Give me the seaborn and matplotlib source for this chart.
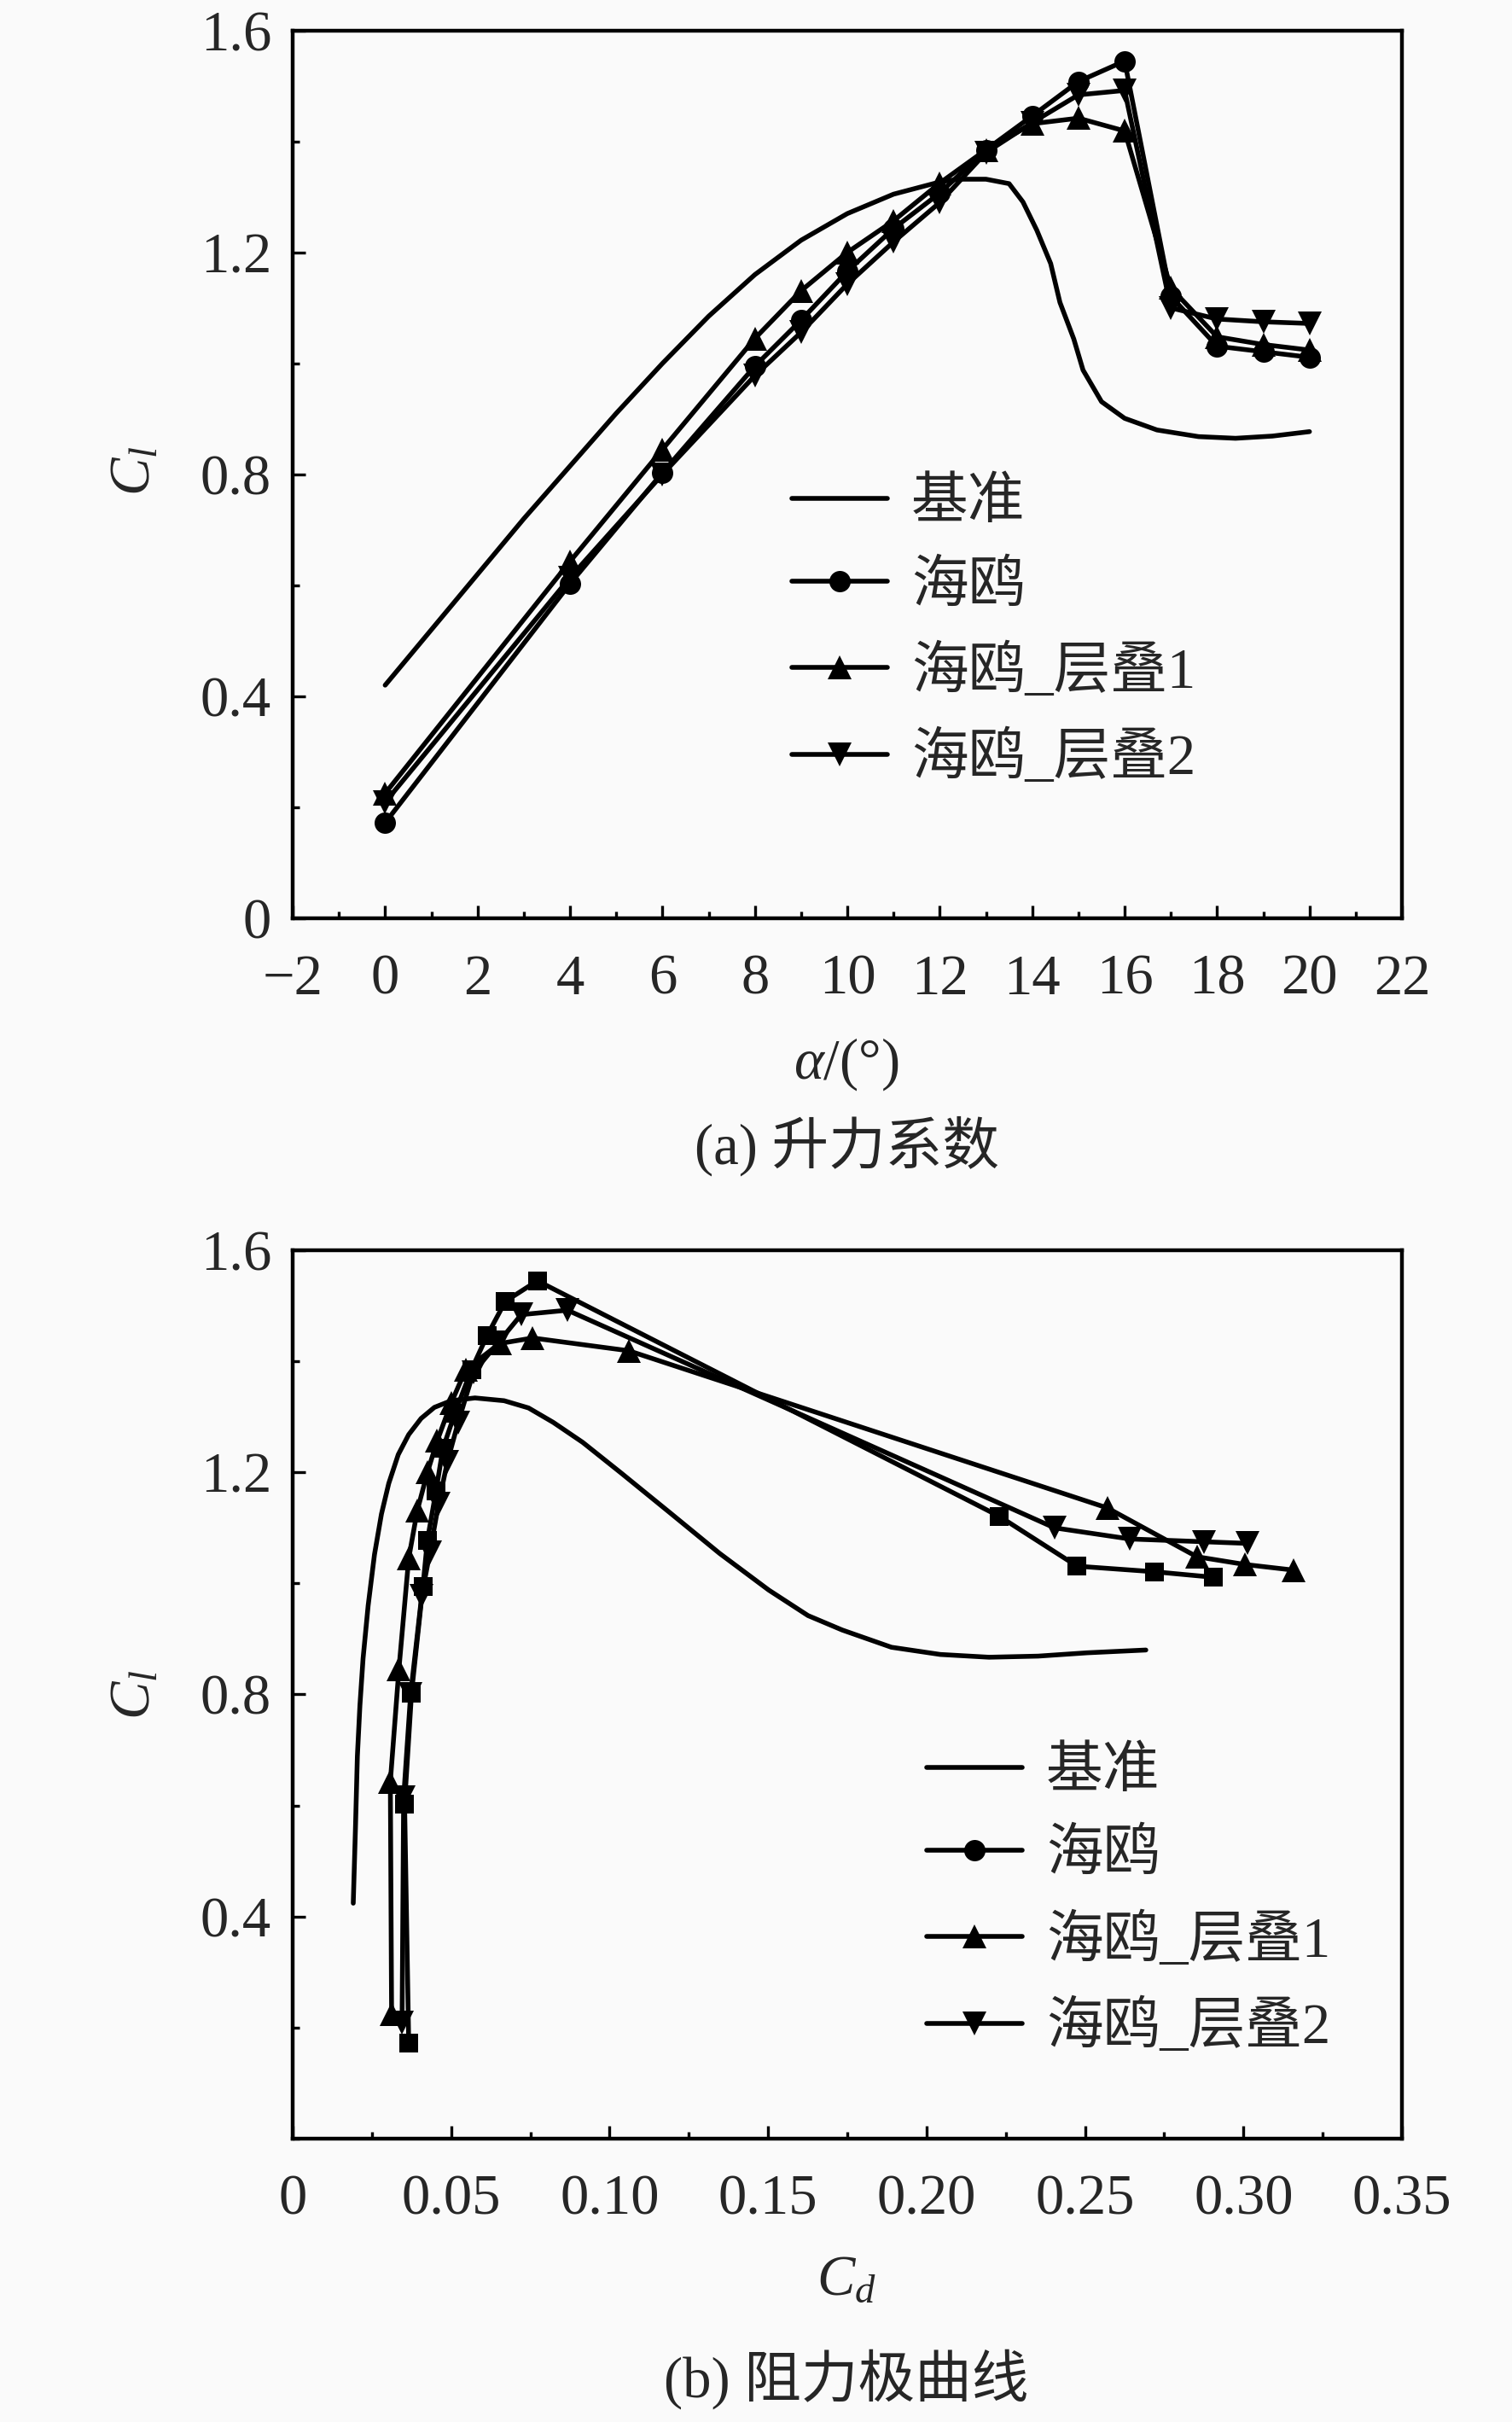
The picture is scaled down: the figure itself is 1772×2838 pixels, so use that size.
import pandas as pd
import seaborn as sns
import matplotlib.pyplot as plt
from matplotlib.lines import Line2D
from matplotlib.ticker import MultipleLocator, FuncFormatter

# ------------------------------------------------
# Data
# ------------------------------------------------
alpha = [0, 4, 6, 8, 9, 10, 11, 12, 13, 14, 15, 16, 17, 18, 19, 20]

cl_seagull = [0.172, 0.603, 0.803, 0.995, 1.078, 1.166, 1.243, 1.307, 1.385, 1.446, 1.508, 1.545, 1.121, 1.031, 1.021, 1.011]
cl_stack1 = [0.225, 0.643, 0.845, 1.045, 1.131, 1.200, 1.257, 1.325, 1.385, 1.432, 1.442, 1.419, 1.136, 1.048, 1.034, 1.024]
cl_stack2 = [0.209, 0.614, 0.800, 0.978, 1.056, 1.143, 1.219, 1.290, 1.380, 1.434, 1.484, 1.492, 1.100, 1.080, 1.075, 1.072]

cd_seagull = [0.0366, 0.0353, 0.0375, 0.0411, 0.0425, 0.0452, 0.0474, 0.0512, 0.0564, 0.0613, 0.0671, 0.0772, 0.2229, 0.2475, 0.2718, 0.2906]
cd_stack1 = [0.0312, 0.0308, 0.0335, 0.0366, 0.0393, 0.0425, 0.0456, 0.0500, 0.0546, 0.0653, 0.0757, 0.1060, 0.2570, 0.2853, 0.3005, 0.3157]
cd_stack2 = [0.0345, 0.0350, 0.0372, 0.0407, 0.0433, 0.0460, 0.0488, 0.0522, 0.0570, 0.0649, 0.0721, 0.0867, 0.2404, 0.2641, 0.2875, 0.3014]

alpha_base = [0, 1, 2, 3, 4, 5, 6, 7, 8, 9, 10, 11, 12, 12.4, 13, 13.5, 13.8, 14.1, 14.4,
              14.6, 14.9, 15.1, 15.5, 16, 16.7, 17.6, 18.4, 19.2, 20]
cl_base_a = [0.42, 0.52, 0.62, 0.72, 0.815, 0.91, 1.0, 1.085, 1.16, 1.222, 1.27, 1.305, 1.327, 1.332,
             1.332, 1.324, 1.291, 1.240, 1.180, 1.110, 1.044, 0.988, 0.931, 0.901, 0.880, 0.868,
             0.865, 0.869, 0.877]

cd_base = [0.0191, 0.0198, 0.0204, 0.0212, 0.0222, 0.0238, 0.0258, 0.0280, 0.0303, 0.0333, 0.0366,
           0.0405, 0.0447, 0.0500, 0.0575, 0.0667, 0.0744, 0.0822, 0.0915, 0.1038, 0.1193, 0.1347,
           0.1502, 0.1626, 0.1734, 0.1889, 0.2043, 0.2197, 0.2352, 0.2507, 0.2692]
cl_base_d = [0.424, 0.56, 0.689, 0.78, 0.865, 0.96, 1.052, 1.125, 1.180, 1.232, 1.268, 1.297, 1.317,
             1.329, 1.334, 1.329, 1.316, 1.290, 1.254, 1.198, 1.126, 1.054, 0.988, 0.942, 0.916,
             0.885, 0.872, 0.867, 0.869, 0.875, 0.880]

labels = ["基准", "海鸥", "海鸥_层叠1", "海鸥_层叠2"]

# ------------------------------------------------
# Style
# ------------------------------------------------
sns.set_theme(style="ticks")
plt.rcParams['font.family'] = ['Liberation Serif', 'Noto Sans CJK SC', 'DejaVu Sans']
plt.rcParams['mathtext.fontset'] = 'custom'
plt.rcParams['mathtext.rm'] = 'Liberation Serif'
plt.rcParams['mathtext.it'] = 'Liberation Serif:italic'
plt.rcParams['axes.unicode_minus'] = True

FS = 24
LW = 2.0
BG = '#fafafa'
line_kw = dict(color='black', linewidth=LW, sort=False, estimator=None, legend=False)
mk = {'o': 9, 's': 8, '^': 10, 'v': 10}

fig = plt.figure(figsize=(8.86, 14.19), dpi=200, facecolor=BG)
ax1 = fig.add_axes([0.1936, 0.6209, 0.7336, 0.3665])
ax2 = fig.add_axes([0.1936, 0.1170, 0.7336, 0.3668])


def style_axes(ax):
    ax.set_facecolor(BG)
    for s in ax.spines.values():
        s.set_linewidth(1.6)
        s.set_color('black')
        s.set_visible(True)
    ax.tick_params(which='both', direction='in', top=False, right=False,
                   labelsize=FS, color='black', width=1.2)
    ax.tick_params(which='major', length=5.5)
    ax.tick_params(which='minor', length=3)
    ax.tick_params(axis='x', which='both', pad=15)
    ax.tick_params(axis='y', which='both', pad=9)
    ax.set_xlabel('')
    ax.set_ylabel('')


# ------------------------------------------------
# (a) lift coefficient
# ------------------------------------------------
sns.lineplot(x=alpha_base, y=cl_base_a, ax=ax1, **line_kw)
sns.lineplot(x=alpha, y=cl_seagull, ax=ax1, marker='o', markersize=mk['o'], markeredgewidth=0, **line_kw)
sns.lineplot(x=alpha, y=cl_stack1, ax=ax1, marker='^', markersize=mk['^'], markeredgewidth=0, **line_kw)
sns.lineplot(x=alpha, y=cl_stack2, ax=ax1, marker='v', markersize=mk['v'], markeredgewidth=0, **line_kw)
ax1.set_xlim(-2, 22)
ax1.set_ylim(0, 1.6)
ax1.xaxis.set_major_locator(MultipleLocator(2))
ax1.xaxis.set_minor_locator(MultipleLocator(1))
ax1.yaxis.set_major_locator(MultipleLocator(0.4))
ax1.yaxis.set_minor_locator(MultipleLocator(0.2))
ax1.yaxis.set_major_formatter(FuncFormatter(lambda v, p: '0' if abs(v) < 1e-9 else f'{v:.1f}'))
style_axes(ax1)

# ------------------------------------------------
# (b) drag polar
# ------------------------------------------------
sns.lineplot(x=cd_base, y=cl_base_d, ax=ax2, **line_kw)
sns.lineplot(x=cd_seagull, y=cl_seagull, ax=ax2, marker='s', markersize=mk['s'], markeredgewidth=0, **line_kw)
sns.lineplot(x=cd_stack1, y=cl_stack1, ax=ax2, marker='^', markersize=mk['^'], markeredgewidth=0, **line_kw)
sns.lineplot(x=cd_stack2, y=cl_stack2, ax=ax2, marker='v', markersize=mk['v'], markeredgewidth=0, **line_kw)
ax2.set_xlim(0, 0.35)
ax2.set_ylim(0, 1.6)
ax2.xaxis.set_major_locator(MultipleLocator(0.05))
ax2.xaxis.set_minor_locator(MultipleLocator(0.025))
ax2.set_yticks([0.4, 0.8, 1.2, 1.6])
ax2.yaxis.set_minor_locator(MultipleLocator(0.2))
ax2.xaxis.set_major_formatter(FuncFormatter(lambda v, p: '0' if abs(v) < 1e-9 else f'{v:.2f}'))
ax2.yaxis.set_major_formatter(FuncFormatter(lambda v, p: f'{v:.1f}'))
style_axes(ax2)

# ------------------------------------------------
# Legends
# ------------------------------------------------
handles = [
    Line2D([], [], color='black', linewidth=LW),
    Line2D([], [], color='black', linewidth=LW, marker='o', markersize=mk['o'], markeredgewidth=0),
    Line2D([], [], color='black', linewidth=LW, marker='^', markersize=mk['^'], markeredgewidth=0),
    Line2D([], [], color='black', linewidth=LW, marker='v', markersize=mk['v'], markeredgewidth=0),
]
leg_kw = dict(frameon=False, fontsize=FS, loc='upper left', borderpad=0, borderaxespad=0,
              handlelength=1.68, handletextpad=0.42, labelspacing=0.54)
ax1.legend(handles, labels, bbox_to_anchor=(0.45, 0.496), **leg_kw)
ax2.legend(handles, labels, bbox_to_anchor=(0.5715, 0.441), **leg_kw)

# ------------------------------------------------
# Axis labels and captions
# ------------------------------------------------
fig.text(0.0897, 1 - 552 / 2838, r'$C_l$', fontsize=FS, rotation=90, ha='center', va='center')
fig.text(0.0897, 1 - 1986 / 2838, r'$C_l$', fontsize=FS, rotation=90, ha='center', va='center')
fig.text(992 / 1772, 1 - 1247 / 2838, r'$\alpha$/(°)', fontsize=FS, ha='center', va='center')
fig.text(992 / 1772, 1 - 1343 / 2838, '(a) 升力系数', fontsize=FS, ha='center', va='center')
fig.text(992 / 1772, 1 - 2672 / 2838, r'$C_d$', fontsize=FS, ha='center', va='center')
fig.text(992 / 1772, 1 - 2788 / 2838, '(b) 阻力极曲线', fontsize=FS, ha='center', va='center')

fig.savefig('out.png', dpi=200, facecolor=BG)
